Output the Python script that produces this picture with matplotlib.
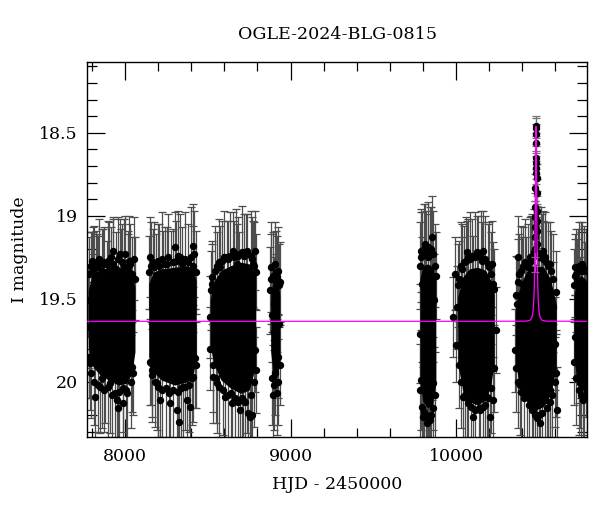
"""Light curve of OGLE-2024-BLG-0815 with point-lens model."""
import matplotlib
matplotlib.use("Agg")
import matplotlib.pyplot as plt
from matplotlib.ticker import MultipleLocator, FormatStrFormatter

plt.rcParams.update({"font.family": "DejaVu Serif", "font.size": 12})

# dense core of each observing season (HJD-2450000, bright edge, faint edge)
CORE_T = [
    [7778, 7800, 7840, 7900, 7960, 8010, 8040, 8060],
    [8143, 8170, 8220, 8300, 8380, 8415, 8430],
    [8514, 8540, 8580, 8640, 8700, 8750, 8790],
    [8880, 8895, 8910, 8925, 8935],
    [9782, 9800, 9830, 9860, 9878],
    [10010, 10040, 10080, 10130, 10180, 10210, 10230],
    [10358, 10390, 10430, 10480, 10530, 10570, 10605],
    [10712, 10730, 10755, 10780, 10795],
]
CORE_BRIGHT = [
    [19.45, 19.36, 19.33, 19.31, 19.31, 19.33, 19.36, 19.43],
    [19.41, 19.34, 19.32, 19.31, 19.30, 19.33, 19.39],
    [19.51, 19.39, 19.33, 19.30, 19.28, 19.29, 19.36],
    [19.48, 19.39, 19.37, 19.39, 19.48],
    [19.38, 19.30, 19.29, 19.31, 19.39],
    [19.49, 19.37, 19.32, 19.31, 19.33, 19.39, 19.48],
    [19.55, 19.41, 19.33, 19.29, 19.31, 19.38, 19.53],
    [19.48, 19.39, 19.36, 19.38, 19.41],
]
CORE_FAINT = [
    [19.79, 19.90, 19.95, 19.99, 20.02, 20.01, 19.95, 19.82],
    [19.85, 19.94, 19.99, 20.02, 20.00, 19.94, 19.85],
    [19.79, 19.90, 19.99, 20.04, 20.07, 20.05, 19.90],
    [19.82, 19.95, 19.99, 19.95, 19.85],
    [20.00, 20.12, 20.16, 20.12, 20.00],
    [19.89, 20.05, 20.12, 20.14, 20.11, 20.02, 19.89],
    [19.89, 20.04, 20.12, 20.17, 20.15, 20.07, 19.92],
    [19.85, 19.99, 20.05, 20.05, 20.02],
]

# scattered points around the dense cores
HJD = [
    7779, 7785, 7789, 7799, 7809, 7819, 7829, 7849, 7870, 7890, 7910, 7930, 7940,
    7950, 7960, 7970, 7990, 8000, 8010, 8020, 8030, 8040, 8053, 7880, 7975,
    8151, 8155, 8161, 8185, 8191, 8212, 8232, 8252, 8272, 8302, 8312, 8328, 8332,
    8352, 8373, 8393, 8403, 8413, 8417, 8423, 8280,
    8514, 8524, 8534, 8558, 8574, 8604, 8614, 8645, 8655, 8675, 8695, 8715, 8735,
    8735, 8745, 8755, 8765, 8775, 8786, 8786, 8690,
    8880, 8892, 8900, 8906, 8912, 8916, 8920, 8926, 8932,
    9783, 9787, 9787, 9793, 9803, 9813, 9823, 9833, 9837, 9843, 9853, 9853, 9863,
    9867,
    9980, 9994, 10000, 10008, 10028, 10034, 10044, 10064, 10064, 10105, 10125,
    10145, 10165, 10185, 10205, 10216, 10222, 10226, 10242, 10100,
    10356, 10367, 10377, 10387, 10397, 10427, 10437, 10457, 10467, 10507, 10518,
    10528, 10538, 10558, 10568, 10568, 10588, 10598, 10608, 10420,
    10719, 10721, 10733, 10743, 10749, 10749, 10759, 10765, 10769, 10779, 10785,
]
MAG = [
    19.51, 19.67, 19.89, 19.27, 19.49, 20.09, 19.31, 20.03, 19.29, 19.45, 20.01,
    19.21, 20.07, 20.11, 20.16, 19.23, 20.13, 19.23, 20.07, 19.31, 19.29, 19.91,
    19.26, 19.95, 19.40,
    19.25, 19.89, 19.93, 19.41, 20.01, 20.11, 19.37, 19.29, 20.13, 19.19, 20.17,
    20.24, 19.25, 20.03, 20.11, 20.15, 19.98, 19.18, 19.23, 19.86, 19.42,
    19.61, 19.41, 19.97, 20.01, 19.31, 20.09, 19.25, 20.13, 19.21, 19.29, 20.17,
    20.11, 20.01, 19.21, 20.19, 20.21, 20.20, 19.29, 19.81, 19.21, 19.42,
    19.31, 20.08, 19.53, 19.29, 19.81, 20.07, 19.37, 19.85, 19.65,
    19.71, 19.21, 19.99, 19.41, 20.21, 19.17, 20.25, 19.25, 20.13, 20.23, 19.13,
    19.81, 20.01, 19.51,
    19.61, 19.35, 19.78, 19.55, 19.30, 19.41, 20.09, 19.22, 20.10, 20.21, 19.22,
    20.17, 19.21, 20.09, 20.21, 19.29, 20.11, 19.41, 19.69, 19.45,
    19.81, 19.53, 19.25, 20.02, 19.41, 20.07, 19.31, 19.25, 20.17, 20.25, 19.21,
    19.21, 20.11, 20.07, 19.29, 20.05, 19.55, 19.77, 20.17, 19.45,
    19.31, 19.73, 19.39, 19.85, 19.53, 20.01, 19.33, 20.11, 19.77, 19.41, 19.93,
]
ERR = [
    0.22, 0.25, 0.28, 0.17, 0.26, 0.30, 0.20, 0.28, 0.22, 0.30, 0.30, 0.20, 0.30,
    0.30, 0.28, 0.21, 0.30, 0.23, 0.28, 0.22, 0.24, 0.27, 0.25, 0.30, 0.32,
    0.24, 0.25, 0.28, 0.30, 0.28, 0.30, 0.28, 0.22, 0.30, 0.21, 0.28, 0.28, 0.26,
    0.30, 0.28, 0.28, 0.28, 0.25, 0.26, 0.30, 0.33,
    0.25, 0.24, 0.28, 0.30, 0.25, 0.30, 0.22, 0.30, 0.23, 0.24, 0.30, 0.30, 0.30,
    0.22, 0.28, 0.28, 0.26, 0.26, 0.25, 0.24, 0.32,
    0.27, 0.30, 0.28, 0.25, 0.27, 0.25, 0.25, 0.25, 0.25,
    0.30, 0.25, 0.30, 0.28, 0.30, 0.24, 0.28, 0.26, 0.30, 0.28, 0.25, 0.30, 0.28,
    0.28,
    0.24, 0.22, 0.22, 0.25, 0.26, 0.28, 0.28, 0.19, 0.30, 0.28, 0.22, 0.28, 0.24,
    0.28, 0.28, 0.26, 0.26, 0.25, 0.26, 0.33,
    0.25, 0.28, 0.25, 0.30, 0.28, 0.30, 0.26, 0.24, 0.30, 0.28, 0.22, 0.24, 0.30,
    0.28, 0.25, 0.30, 0.27, 0.28, 0.26, 0.32,
    0.17, 0.25, 0.25, 0.28, 0.28, 0.27, 0.25, 0.26, 0.26, 0.25, 0.28,
]

# points sitting on the edges of the dense cores
EDGE_HJD = [
    7782, 7792, 7805, 7815, 7825, 7838, 7845, 7858, 7865, 7895, 7905, 7918, 7925,
    7945, 7955, 7982, 7995, 8015, 8025, 8045, 8058,
    7783, 7795, 7812, 7835, 7860, 7875, 7900, 7920, 7965, 7985, 8005, 8035, 8050,
    8146, 8158, 8168, 8178, 8198, 8205, 8222, 8240, 8262, 8290, 8310, 8322, 8345,
    8362, 8383, 8398, 8408, 8428,
    8148, 8165, 8180, 8202, 8225, 8245, 8265, 8290, 8320, 8340, 8365, 8388, 8410,
    8426,
    8518, 8528, 8545, 8555, 8565, 8585, 8595, 8625, 8635, 8660, 8668, 8685, 8705,
    8720, 8728, 8760, 8770, 8782, 8792,
    8516, 8530, 8550, 8570, 8590, 8620, 8640, 8665, 8685, 8705, 8725, 8760, 8780,
    8790,
    8878, 8884, 8888, 8896, 8903, 8910, 8914, 8922, 8928, 8934, 8886, 8898, 8908,
    8924, 8936,
    9784, 9790, 9797, 9806, 9818, 9828, 9840, 9848, 9858, 9870, 9876,
    9785, 9795, 9808, 9818, 9828, 9846, 9858, 9872,
    10012, 10020, 10038, 10048, 10058, 10072, 10085, 10095, 10112, 10135, 10150,
    10158, 10175, 10192, 10200, 10212, 10232,
    10015, 10030, 10052, 10075, 10090, 10115, 10138, 10160, 10178, 10195, 10212,
    10230,
    10360, 10372, 10383, 10392, 10405, 10415, 10445, 10452, 10462, 10472, 10495,
    10502, 10512, 10525, 10535, 10545, 10555, 10575, 10585, 10602,
    10362, 10375, 10395, 10410, 10440, 10460, 10475, 10490, 10500, 10520, 10548,
    10565, 10580, 10595, 10606,
    10710, 10716, 10726, 10738, 10745, 10755, 10762, 10775, 10788,
    10712, 10725, 10740, 10756, 10772, 10790,
]
EDGE_MAG = [
    19.35, 19.30, 19.33, 19.28, 19.36, 19.30, 19.26, 19.33, 19.28, 19.27, 19.30,
    19.25, 19.29, 19.32, 19.26, 19.28, 19.30, 19.33, 19.27, 19.35, 19.38,
    19.85, 19.95, 20.00, 20.02, 19.98, 20.05, 20.03, 20.08, 20.06, 20.04, 20.05,
    20.00, 19.95,
    19.34, 19.30, 19.28, 19.31, 19.27, 19.30, 19.26, 19.29, 19.25, 19.28, 19.27,
    19.24, 19.29, 19.26, 19.28, 19.25, 19.30, 19.34,
    19.88, 19.96, 20.00, 20.03, 20.05, 20.04, 20.07, 20.05, 20.06, 20.04, 20.03,
    20.02, 19.97, 19.90,
    19.45, 19.37, 19.33, 19.30, 19.28, 19.27, 19.25, 19.26, 19.24, 19.25, 19.23,
    19.24, 19.22, 19.24, 19.22, 19.24, 19.26, 19.30, 19.34,
    19.80, 19.90, 19.98, 20.03, 20.05, 20.08, 20.07, 20.10, 20.12, 20.10, 20.12,
    20.08, 20.00, 19.93,
    19.45, 19.38, 19.60, 19.36, 19.70, 19.34, 19.50, 19.33, 19.42, 19.40, 19.98,
    20.02, 19.95, 20.00, 19.90,
    19.30, 19.25, 19.22, 19.20, 19.22, 19.19, 19.21, 19.20, 19.23, 19.30, 19.36,
    20.05, 20.15, 20.18, 20.20, 20.22, 20.20, 20.16, 20.08,
    19.42, 19.38, 19.32, 19.28, 19.27, 19.25, 19.26, 19.24, 19.25, 19.24, 19.25,
    19.27, 19.26, 19.29, 19.31, 19.35, 19.44,
    19.90, 20.00, 20.08, 20.13, 20.15, 20.17, 20.16, 20.15, 20.14, 20.10, 20.04,
    19.92,
    19.48, 19.40, 19.35, 19.33, 19.30, 19.28, 19.25, 19.27, 19.24, 19.22, 19.23,
    19.25, 19.22, 19.26, 19.25, 19.28, 19.30, 19.33, 19.38, 19.46,
    19.92, 20.00, 20.06, 20.10, 20.14, 20.17, 20.20, 20.22, 20.20, 20.19, 20.16,
    20.12, 20.08, 20.00, 19.95,
    19.42, 19.36, 19.35, 19.32, 19.30, 19.31, 19.29, 19.32, 19.33,
    19.88, 19.98, 20.05, 20.08, 20.10, 20.06,
]
EDGE_ERR = [
    0.22, 0.20, 0.26, 0.22, 0.27, 0.18, 0.24, 0.25, 0.20, 0.24, 0.26, 0.18, 0.27,
    0.22, 0.25, 0.23, 0.28, 0.22, 0.27, 0.22, 0.25,
    0.25, 0.27, 0.26, 0.28, 0.30, 0.25, 0.30, 0.28, 0.30, 0.26, 0.30, 0.28, 0.25,
    0.22, 0.26, 0.20, 0.27, 0.22, 0.25, 0.28, 0.22, 0.26, 0.20, 0.24, 0.27, 0.22,
    0.28, 0.23, 0.30, 0.24, 0.25,
    0.26, 0.28, 0.27, 0.30, 0.28, 0.30, 0.26, 0.30, 0.28, 0.30, 0.26, 0.28, 0.27,
    0.26,
    0.24, 0.22, 0.27, 0.20, 0.26, 0.24, 0.28, 0.23, 0.26, 0.22, 0.27, 0.23, 0.28,
    0.25, 0.23, 0.27, 0.25, 0.26, 0.23,
    0.25, 0.28, 0.27, 0.30, 0.27, 0.30, 0.28, 0.28, 0.30, 0.30, 0.27, 0.30, 0.27,
    0.26,
    0.26, 0.27, 0.28, 0.26, 0.27, 0.25, 0.27, 0.26, 0.25, 0.24, 0.28, 0.27, 0.25,
    0.26, 0.24,
    0.26, 0.27, 0.24, 0.27, 0.25, 0.27, 0.26, 0.25, 0.26, 0.25, 0.26,
    0.28, 0.27, 0.28, 0.27, 0.28, 0.27, 0.28, 0.26,
    0.25, 0.23, 0.27, 0.22, 0.26, 0.23, 0.28, 0.22, 0.27, 0.24, 0.28, 0.23, 0.26,
    0.24, 0.27, 0.25, 0.24,
    0.26, 0.28, 0.30, 0.28, 0.30, 0.28, 0.30, 0.27, 0.30, 0.28, 0.27, 0.26,
    0.24, 0.26, 0.24, 0.27, 0.23, 0.26, 0.24, 0.27, 0.25, 0.26, 0.28, 0.24, 0.27,
    0.23, 0.27, 0.24, 0.26, 0.24, 0.27, 0.25,
    0.26, 0.28, 0.30, 0.28, 0.30, 0.28, 0.28, 0.30, 0.28, 0.30, 0.28, 0.27, 0.30,
    0.27, 0.26,
    0.22, 0.25, 0.27, 0.24, 0.26, 0.27, 0.25, 0.26, 0.25,
    0.26, 0.28, 0.27, 0.28, 0.27, 0.26,
]

# points on the event itself
EVT_HJD = [10483.4, 10483.0, 10484.3, 10482.3, 10485.3, 10481.2, 10485.9,
           10480.6, 10486.4, 10479.8, 10487.2, 10478.8, 10488.1, 10478.2,
           10488.6, 10477.7, 10489.2, 10476.9, 10490.0, 10476.0]
EVT_MAG = [18.46, 18.47, 18.51, 18.56, 18.65, 18.68, 18.71, 18.74, 18.77, 18.83,
           18.86, 18.95, 18.97, 19.01, 19.03, 19.07, 19.09, 19.13, 19.17, 19.20]
EVT_ERR = [0.06, 0.06, 0.06, 0.06, 0.07, 0.07, 0.07, 0.07, 0.08, 0.08,
           0.08, 0.09, 0.09, 0.10, 0.10, 0.11, 0.11, 0.12, 0.13, 0.14]

# point-lens model curve
MODEL_T = [7772, 10183.4, 10423.4, 10448.4, 10458.4, 10463.4, 10467.4, 10470.4,
           10473.4, 10475.4, 10477.4, 10478.4, 10479.4, 10480.4, 10481.4,
           10482.4, 10483.4, 10484.4, 10485.4, 10486.4, 10487.4, 10488.4,
           10489.4, 10491.4, 10493.4, 10496.4, 10499.4, 10503.4, 10508.4,
           10518.4, 10543.4, 10793]
MODEL_MAG = [19.636, 19.636, 19.635, 19.629, 19.613, 19.591, 19.552, 19.497,
             19.399, 19.291, 19.131, 19.026, 18.903, 18.765, 18.623, 18.508,
             18.462, 18.508, 18.623, 18.765, 18.903, 19.026, 19.131, 19.291,
             19.399, 19.497, 19.552, 19.591, 19.613, 19.629, 19.635, 19.636]

fig = plt.figure(figsize=(6.0, 5.12), dpi=100)
ax = fig.add_axes([0.1455, 0.1471, 0.8333, 0.7324])

bar_style = dict(fmt="none", ecolor="0.3", elinewidth=0.9, capsize=3,
                 capthick=0.9, zorder=2)
all_t = HJD + EDGE_HJD
all_m = MAG + EDGE_MAG
ax.errorbar(all_t, all_m, yerr=ERR + EDGE_ERR, **bar_style)
# dense core drawn over the bars, points on top
for t, lo, hi in zip(CORE_T, CORE_BRIGHT, CORE_FAINT):
    ax.fill_between(t, lo, hi, color="k", lw=0, zorder=3)
ax.plot(all_t, all_m, "o", color="k", ms=4.3, zorder=4)

ax.errorbar(EVT_HJD, EVT_MAG, yerr=EVT_ERR, fmt="o", color="k", ms=4.3,
            ecolor="0.45", elinewidth=0.9, capsize=3, capthick=0.9, zorder=4)
ax.plot(MODEL_T, MODEL_MAG, color="#ff00ff", lw=0.9, zorder=5)

ax.set_xlim(7772, 10793)
ax.set_ylim(20.331, 18.072)
ax.xaxis.set_major_locator(MultipleLocator(1000))
ax.xaxis.set_minor_locator(MultipleLocator(200))
ax.yaxis.set_major_locator(MultipleLocator(0.5))
ax.yaxis.set_minor_locator(MultipleLocator(0.1))
ax.yaxis.set_major_formatter(FormatStrFormatter("%g"))
ax.tick_params(which="both", direction="in", top=True, right=True, width=0.9,
               labelsize=12.5)
ax.tick_params(axis="x", which="major", length=13, pad=8)
ax.tick_params(axis="x", which="minor", length=6.5)
ax.tick_params(axis="y", which="major", length=13, pad=7)
ax.tick_params(axis="y", which="minor", length=7)
for sp in ax.spines.values():
    sp.set_linewidth(1.0)

ax.set_xlabel("HJD - 2450000", fontsize=12.5, labelpad=8)
ax.set_ylabel("I magnitude", fontsize=12.5, labelpad=8)
ax.set_title("OGLE-2024-BLG-0815", fontsize=12.6, pad=16)

fig.savefig("out.png", dpi=100)
